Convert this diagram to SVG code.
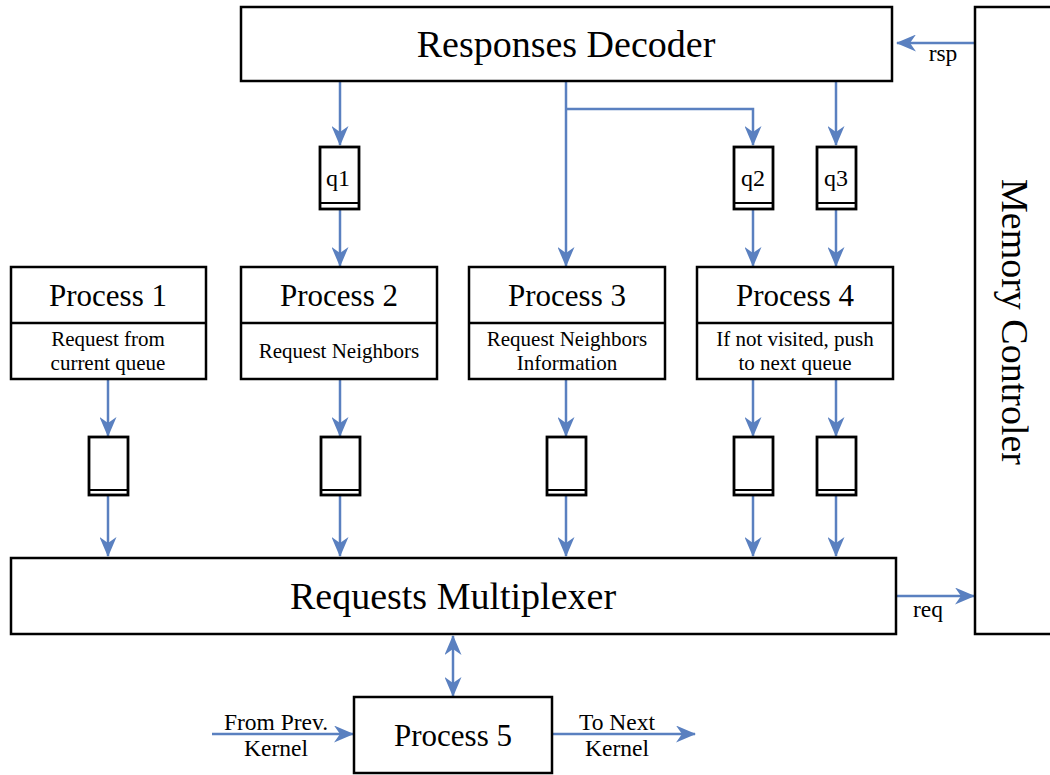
<svg xmlns="http://www.w3.org/2000/svg" width="1050" height="775" viewBox="0 0 1050 775">
  <defs>
    <style>
      .box { fill: #ffffff; stroke: #000000; stroke-width: 2.5; }
      .q { fill: #ffffff; stroke: #000000; stroke-width: 2.8; }
      .qb { stroke: #000000; stroke-width: 2.2; }
      .wire { fill: none; stroke: #5a80c0; stroke-width: 2.5; }
      .t { font-family: "Liberation Serif", "Times New Roman", serif; fill: #000000; text-anchor: middle; }
      .big { font-size: 38px; }
      .mid { font-size: 31px; }
      .small { font-size: 21px; }
      .lbl { font-size: 23.5px; }
      .qt { font-size: 24px; }
    </style>
    <marker id="ah" markerUnits="userSpaceOnUse" markerWidth="20" markerHeight="17" viewBox="0 0 20 17" refX="19" refY="8.5" orient="auto-start-reverse">
      <path d="M0,0 L20,8.5 L0,17 L6,8.5 z" fill="#5a80c0"/>
    </marker>
  </defs>

  <!-- connectors -->
  <g id="connectors">
    <line class="wire" x1="975" y1="43" x2="897" y2="43" marker-end="url(#ah)"/>
    <line class="wire" x1="897" y1="596" x2="974" y2="596" marker-end="url(#ah)"/>
    <line class="wire" x1="340" y1="81" x2="340" y2="145" marker-end="url(#ah)"/>
    <line class="wire" x1="340" y1="209" x2="340" y2="266" marker-end="url(#ah)"/>
    <line class="wire" x1="566" y1="81" x2="566" y2="266" marker-end="url(#ah)"/>
    <polyline class="wire" points="566,109 753,109 753,145" marker-end="url(#ah)"/>
    <line class="wire" x1="753" y1="209" x2="753" y2="266" marker-end="url(#ah)"/>
    <line class="wire" x1="836" y1="81" x2="836" y2="145" marker-end="url(#ah)"/>
    <line class="wire" x1="836" y1="209" x2="836" y2="266" marker-end="url(#ah)"/>
    <line class="wire" x1="108" y1="379" x2="108" y2="436" marker-end="url(#ah)"/>
    <line class="wire" x1="340" y1="379" x2="340" y2="436" marker-end="url(#ah)"/>
    <line class="wire" x1="566" y1="379" x2="566" y2="436" marker-end="url(#ah)"/>
    <line class="wire" x1="753" y1="379" x2="753" y2="436" marker-end="url(#ah)"/>
    <line class="wire" x1="836" y1="379" x2="836" y2="436" marker-end="url(#ah)"/>
    <line class="wire" x1="108" y1="495" x2="108" y2="556" marker-end="url(#ah)"/>
    <line class="wire" x1="340" y1="495" x2="340" y2="556" marker-end="url(#ah)"/>
    <line class="wire" x1="566" y1="495" x2="566" y2="556" marker-end="url(#ah)"/>
    <line class="wire" x1="753" y1="495" x2="753" y2="556" marker-end="url(#ah)"/>
    <line class="wire" x1="836" y1="495" x2="836" y2="556" marker-end="url(#ah)"/>
    <line class="wire" x1="453" y1="636" x2="453" y2="696" marker-start="url(#ah)" marker-end="url(#ah)"/>
    <line class="wire" x1="212" y1="734" x2="353" y2="734" marker-end="url(#ah)"/>
    <line class="wire" x1="552" y1="734" x2="695" y2="734" marker-end="url(#ah)"/>
    <text class="t lbl" x="943" y="61">rsp</text>
    <text class="t lbl" x="928" y="617">req</text>
    <text class="t lbl" x="276" y="730">From Prev.</text>
    <text class="t lbl" x="276" y="756">Kernel</text>
    <text class="t lbl" x="617" y="730">To Next</text>
    <text class="t lbl" x="617" y="756">Kernel</text>
  </g>

  <g id="decoder">
    <rect class="box" x="241" y="7" width="651" height="74"/>
    <text class="t big" x="566" y="57">Responses Decoder</text>
  </g>

  <g id="memctrl">
    <rect class="box" x="975" y="7" width="85" height="627"/>
    <text class="t big" transform="translate(1015,322) rotate(90)" x="0" y="13">Memory Controler</text>
  </g>

  <g id="q1">
    <rect class="q" x="320" y="147" width="39" height="62"/>
    <line class="qb" x1="320" y1="203" x2="359" y2="203"/>
    <text class="t qt" x="338" y="186">q1</text>
  </g>
  <g id="q2">
    <rect class="q" x="734" y="147" width="39" height="62"/>
    <line class="qb" x1="734" y1="203" x2="773" y2="203"/>
    <text class="t qt" x="753" y="186">q2</text>
  </g>
  <g id="q3">
    <rect class="q" x="817" y="147" width="39" height="62"/>
    <line class="qb" x1="817" y1="203" x2="856" y2="203"/>
    <text class="t qt" x="836" y="186">q3</text>
  </g>

  <g id="process1">
    <rect class="box" x="11" y="267" width="195" height="112"/>
    <line class="box" x1="11" y1="323" x2="206" y2="323"/>
    <text class="t mid" x="108" y="306">Process 1</text>
    <text class="t small" x="108" y="346">Request from</text>
    <text class="t small" x="108" y="370">current queue</text>
  </g>
  <g id="process2">
    <rect class="box" x="241" y="267" width="196" height="112"/>
    <line class="box" x1="241" y1="323" x2="437" y2="323"/>
    <text class="t mid" x="339" y="306">Process 2</text>
    <text class="t small" x="339" y="358">Request Neighbors</text>
  </g>
  <g id="process3">
    <rect class="box" x="469" y="267" width="196" height="112"/>
    <line class="box" x1="469" y1="323" x2="665" y2="323"/>
    <text class="t mid" x="567" y="306">Process 3</text>
    <text class="t small" x="567" y="346">Request Neighbors</text>
    <text class="t small" x="567" y="370">Information</text>
  </g>
  <g id="process4">
    <rect class="box" x="697" y="267" width="196" height="112"/>
    <line class="box" x1="697" y1="323" x2="893" y2="323"/>
    <text class="t mid" x="795" y="306">Process 4</text>
    <text class="t small" x="795" y="346">If not visited, push</text>
    <text class="t small" x="795" y="370">to next queue</text>
  </g>

  <g id="fifo1">
    <rect class="q" x="89" y="437" width="39" height="58"/>
    <line class="qb" x1="89" y1="490" x2="128" y2="490"/>
  </g>
  <g id="fifo2">
    <rect class="q" x="321" y="437" width="39" height="58"/>
    <line class="qb" x1="321" y1="490" x2="360" y2="490"/>
  </g>
  <g id="fifo3">
    <rect class="q" x="547" y="437" width="39" height="58"/>
    <line class="qb" x1="547" y1="490" x2="586" y2="490"/>
  </g>
  <g id="fifo4">
    <rect class="q" x="734" y="437" width="39" height="58"/>
    <line class="qb" x1="734" y1="490" x2="773" y2="490"/>
  </g>
  <g id="fifo5">
    <rect class="q" x="817" y="437" width="39" height="58"/>
    <line class="qb" x1="817" y1="490" x2="856" y2="490"/>
  </g>

  <g id="multiplexer">
    <rect class="box" x="11" y="558" width="885" height="76"/>
    <text class="t big" x="453" y="609">Requests Multiplexer</text>
  </g>

  <g id="process5">
    <rect class="box" x="354" y="697" width="198" height="76"/>
    <text class="t mid" x="453" y="746">Process 5</text>
  </g>
</svg>
